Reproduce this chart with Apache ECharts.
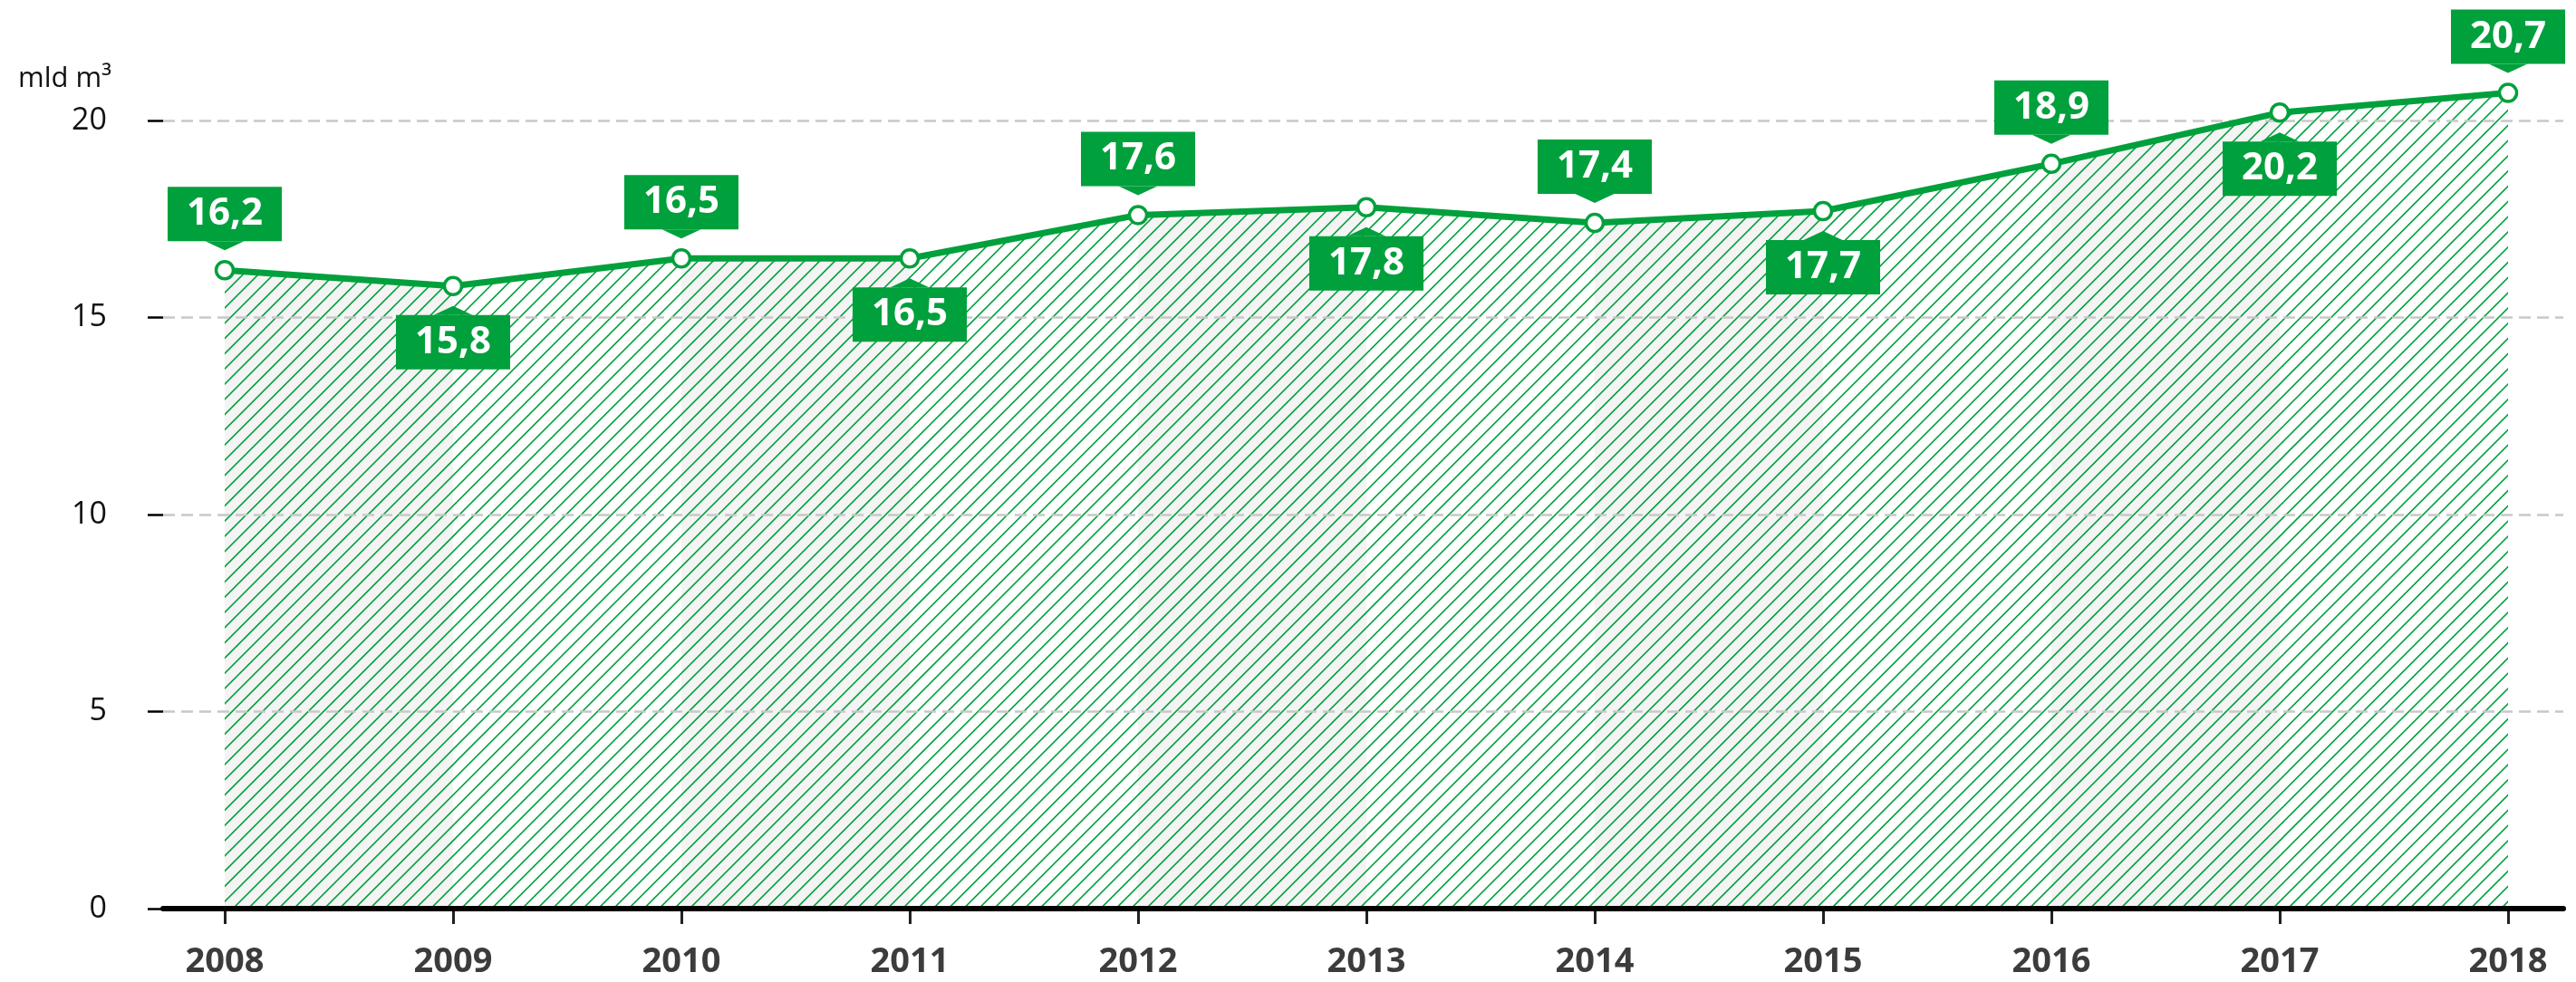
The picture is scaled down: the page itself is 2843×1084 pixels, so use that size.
<!DOCTYPE html>
<html>
<head>
<meta charset="utf-8">
<script src="https://cdn.jsdelivr.net/npm/echarts@6/dist/echarts.min.js"></script>
<style>
  html, body { margin: 0; padding: 0; background: #fff; }
  #chart { width: 2843px; height: 1084px; }
</style>
</head>
<body>
<div id="chart"></div>
<script>
// dane: zużycie, mld m3
var years = ['2008', '2009', '2010', '2011', '2012', '2013', '2014', '2015', '2016', '2017', '2018'];
var values = [16.2, 15.8, 16.5, 16.5, 17.6, 17.8, 17.4, 17.7, 18.9, 20.2, 20.7];
// które etykiety nad punktem (1) a które pod (0)
var labelAbove = [1, 0, 1, 0, 1, 0, 1, 0, 1, 0, 1];
var yTicks = [0, 5, 10, 15, 20];

var GREEN = '#00a03c';

// kreskowanie z naprzemiennymi szarymi pasami (co rok)
function makeHatch() {
  var c = document.createElement('canvas');
  c.width = 504; c.height = 84;
  var ctx = c.getContext('2d');
  ctx.fillStyle = '#f4f4f4';
  ctx.fillRect(248, 0, 252, 84);
  ctx.strokeStyle = GREEN;
  ctx.lineWidth = 1.6;
  for (var k = -2; k < 40; k++) {
    var x = k * 16.8;
    ctx.beginPath();
    ctx.moveTo(x + 2, -2);
    ctx.lineTo(x - 86, 86);
    ctx.stroke();
  }
  return c;
}

var above = values.map(function (v, i) { return labelAbove[i] ? v : '-'; });
var below = values.map(function (v, i) { return labelAbove[i] ? '-' : v; });

var labelStyle = {
  show: true,
  distance: 0,
  color: '#fff',
  fontFamily: 'Open Sans',
  fontWeight: 'bold',
  fontSize: 42,
  lineHeight: 44,
  backgroundColor: GREEN,
  padding: [8, 21],
  formatter: function (p) { return String(p.value).replace('.', ','); }
};

var chart = echarts.init(document.getElementById('chart'));
chart.setOption({
  animation: false,
  grid: [
    { left: 248, right: 75, top: 46, bottom: 81 },
    { left: 180, right: 14, top: 133, bottom: 81 }
  ],
  graphic: [{
    type: 'text', left: 20, top: 72, z: 10,
    style: { text: 'mld m³', fontFamily: 'Open Sans', fontSize: 31, fill: '#111' }
  }],
  xAxis: [
    {
      gridIndex: 0, type: 'category', data: years, boundaryGap: false, offset: 7,
      axisLine: { show: false },
      axisTick: { show: true, alignWithLabel: true, length: 17, lineStyle: { color: '#222', width: 3 } },
      axisLabel: { margin: 33, fontFamily: 'Open Sans', fontWeight: 'bold', fontSize: 38, color: '#3c3c3c' },
      splitLine: { show: false }
    },
    {
      gridIndex: 1, type: 'value', min: 0, max: 1, z: 2,
      axisLine: { show: true, lineStyle: { color: '#000', width: 6 } },
      axisTick: { show: false }, axisLabel: { show: false }, splitLine: { show: false }
    }
  ],
  yAxis: [
    { gridIndex: 0, type: 'value', min: 0, max: 22, show: false },
    {
      gridIndex: 1, type: 'value', min: 0, max: 20, interval: 5, offset: 28, z: 2,
      axisLine: { show: false },
      axisTick: { show: true, length: 17, lineStyle: { color: '#000', width: 2.5 } },
      axisLabel: { margin: 34, fontFamily: 'Open Sans', fontSize: 34, color: '#111',
        formatter: function (v) { return yTicks.indexOf(v) >= 0 ? String(v) : ''; } },
      splitLine: { show: true, lineStyle: { color: '#c8c8c8', width: 2.5, type: [13, 7] } }
    }
  ],
  series: [
    {
      type: 'line', xAxisIndex: 0, yAxisIndex: 0, data: values, z: 1,
      symbol: 'none', lineStyle: { width: 0 },
      areaStyle: { color: { image: makeHatch(), repeat: 'repeat' }, opacity: 1 },
      silent: true
    },
    {
      type: 'line', xAxisIndex: 0, yAxisIndex: 0, data: values, z: 3, clip: false,
      symbol: 'circle', symbolSize: 19, showAllSymbol: true,
      lineStyle: { color: GREEN, width: 7 },
      itemStyle: { color: '#fff', borderColor: GREEN, borderWidth: 3.5 }
    },
    {
      type: 'scatter', xAxisIndex: 0, yAxisIndex: 0, data: above, z: 4,
      symbol: 'path://M0,0 L2,0 L1,1 Z', symbolSize: [43, 10], symbolOffset: [0, -27],
      itemStyle: { color: GREEN, opacity: 1 },
      label: Object.assign({ position: 'top' }, labelStyle)
    },
    {
      type: 'scatter', xAxisIndex: 0, yAxisIndex: 0, data: below, z: 4,
      symbol: 'path://M0,1 L1,0 L2,1 Z', symbolSize: [43, 10], symbolOffset: [0, 27],
      itemStyle: { color: GREEN, opacity: 1 },
      label: Object.assign({ position: 'bottom' }, labelStyle)
    }
  ]
});
</script>
</body>
</html>
